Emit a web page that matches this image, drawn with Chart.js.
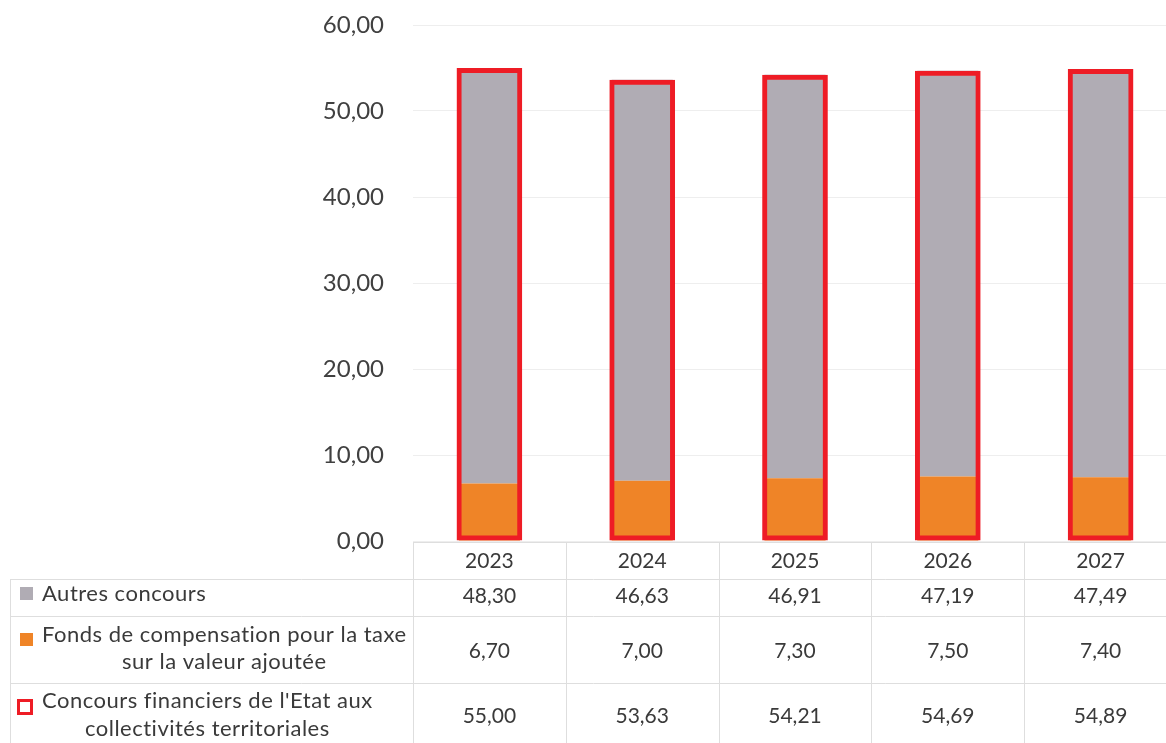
<!DOCTYPE html>
<html><head><meta charset="utf-8">
<script src="https://cdn.jsdelivr.net/npm/chart.js@4.4.1/dist/chart.umd.min.js"></script>
<style>
html,body{margin:0;padding:0;background:#fff;overflow:hidden;width:1166px;height:743px}
#wrap{width:1177px;height:743px;position:relative}
</style>
</head><body>
<div id="wrap"><canvas id="c"></canvas></div>
<script>
const years = ['2023', '2024', '2025', '2026', '2027'];
const autresConcours = [48.30, 46.63, 46.91, 47.19, 47.49];
const fctva = [6.70, 7.00, 7.30, 7.50, 7.40];
const totalConcours = [55.00, 53.63, 54.21, 54.69, 54.89];
const labelAutres = ['Autres concours'];
const labelFctva = ['Fonds de compensation pour la taxe', 'sur la valeur ajoutée'];
const labelTotal = ["Concours financiers de l'Etat aux", 'collectivités territoriales'];

const GREY = '#b0acb4', ORANGE = '#ef8427', RED = '#ee1c25';
const FONT = 'Lato, "Open Sans", sans-serif';
const TEXT = '#3a3a3a';
const LINE = '#dedede';
const fmt = v => v.toFixed(2).replace('.', ',');

const tablePlugin = {
  id: 'dataTable',
  afterDraw(chart) {
    const ctx = chart.ctx;
    const x = chart.scales.x;
    const n = years.length;
    const left = chart.chartArea.left, right = chart.chartArea.right;
    const colW = (right - left) / n;
    const rowsY = [542, 579, 616, 683, 743];
    const labelLeft = 10;
    ctx.save();
    ctx.strokeStyle = LINE; ctx.lineWidth = 1;
    ctx.beginPath();
    ctx.moveTo(left, rowsY[0] + 0.5); ctx.lineTo(right, rowsY[0] + 0.5);
    for (let r = 1; r < 4; r++) { ctx.moveTo(labelLeft, rowsY[r] + 0.5); ctx.lineTo(right, rowsY[r] + 0.5); }
    ctx.moveTo(labelLeft + 0.5, rowsY[1]); ctx.lineTo(labelLeft + 0.5, 743);
    for (let i = 0; i <= n; i++) {
      const xx = Math.round(left + i * colW) + 0.5;
      ctx.moveTo(xx, rowsY[0]); ctx.lineTo(xx, 743);
    }
    ctx.stroke();

    ctx.fillStyle = TEXT;
    ctx.textAlign = 'center'; ctx.textBaseline = 'middle';
    ctx.font = '21px ' + FONT;
    const rows = [
      {vals: years.map(String), y: 561},
      {vals: autresConcours.map(fmt), y: 596},
      {vals: fctva.map(fmt), y: 651},
      {vals: totalConcours.map(fmt), y: 716}
    ];
    rows.forEach(row => {
      row.vals.forEach((t, i) => ctx.fillText(t, x.getPixelForValue(i), row.y));
    });

    ctx.font = '22px ' + FONT;
    if ('letterSpacing' in ctx) ctx.letterSpacing = '0.5px';
    const textX = 42;
    const drawLabel = (lines, y1, y2) => {
      ctx.textAlign = 'left';
      ctx.fillText(lines[0], textX, y1);
      if (lines[1]) {
        const w = ctx.measureText(lines[0]).width;
        ctx.textAlign = 'center';
        ctx.fillText(lines[1], textX + w / 2, y2);
      }
    };
    drawLabel(labelAutres, 594);
    drawLabel(labelFctva, 635, 662);
    drawLabel(labelTotal, 701, 729);
    ctx.fillStyle = GREY; ctx.fillRect(20, 587, 13, 13);
    ctx.fillStyle = ORANGE; ctx.fillRect(20, 633, 13, 13);
    ctx.strokeStyle = RED; ctx.lineWidth = 3;
    ctx.strokeRect(18.5, 700.5, 13, 13);
    ctx.restore();
  }
};

new Chart(document.getElementById('c'), {
  type: 'bar',
  data: {
    labels: years,
    datasets: [
      {label: labelFctva.join(' '), data: fctva, backgroundColor: ORANGE, xAxisID: 'x', stack: 's', order: 1,
       grouped: false, barPercentage: 0.40, categoryPercentage: 1},
      {label: labelAutres[0], data: autresConcours, backgroundColor: GREY, xAxisID: 'x', stack: 's', order: 1,
       grouped: false, barPercentage: 0.40, categoryPercentage: 1},
      {label: labelTotal.join(' '), data: totalConcours, backgroundColor: 'rgba(0,0,0,0)', borderColor: RED,
       borderWidth: 5, borderSkipped: false, xAxisID: 'x2', stack: 't', order: 0,
       grouped: false, barPercentage: 0.43, categoryPercentage: 1}
    ]
  },
  options: {
    responsive: true, maintainAspectRatio: false, animation: false,
    layout: {padding: {top: 25, bottom: 202, left: 0, right: 0}},
    plugins: {legend: {display: false}, tooltip: {enabled: false}},
    scales: {
      x: {display: false, stacked: true, offset: true},
      x2: {display: false, stacked: true, offset: true, labels: years},
      y: {
        stacked: true, min: 0, max: 60,
        ticks: {stepSize: 10, callback: v => fmt(v), color: '#404040', font: {family: FONT, size: 24}, padding: 29},
        grid: {color: '#eeeeee', drawTicks: false},
        border: {display: false},
        afterFit: s => { s.width = 413; s.paddingTop = 0; s.paddingBottom = 0; }
      }
    }
  },
  plugins: [tablePlugin]
});
</script>
</body></html>
